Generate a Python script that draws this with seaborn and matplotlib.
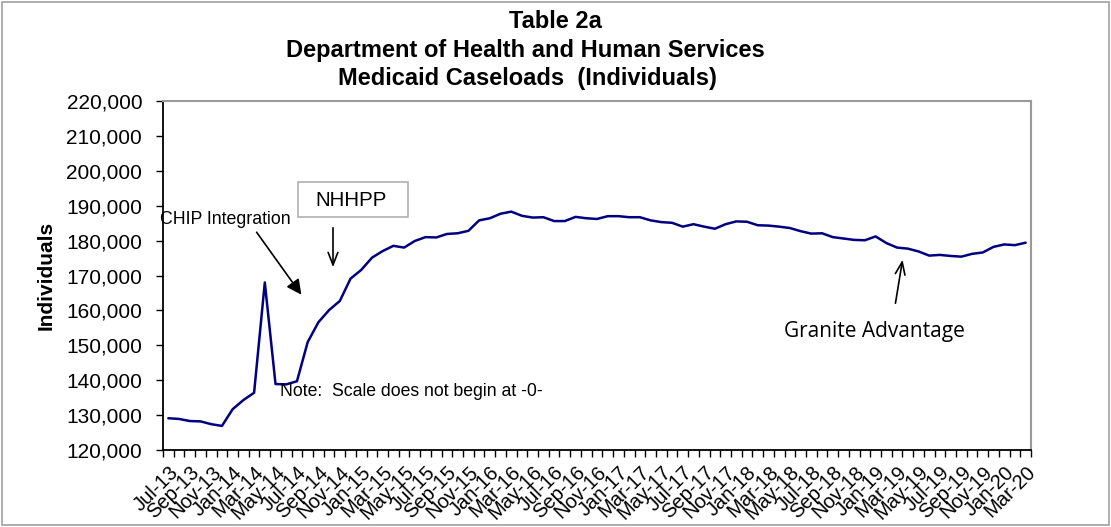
import matplotlib
matplotlib.use("Agg")
import matplotlib.pyplot as plt
import seaborn as sns
import pandas as pd
import numpy as np
from matplotlib.patches import Rectangle
from matplotlib.ticker import FuncFormatter, FixedLocator

sns.set_style("white")
plt.rcParams['font.family'] = ['Liberation Sans', 'DejaVu Sans']
plt.rcParams['text.color'] = 'black'
plt.rcParams['axes.labelcolor'] = 'black'
plt.rcParams['xtick.color'] = 'black'
plt.rcParams['ytick.color'] = 'black'

months = ["Jul-13", "Aug-13", "Sep-13", "Oct-13", "Nov-13", "Dec-13",
          "Jan-14", "Feb-14", "Mar-14", "Apr-14", "May-14", "Jun-14", "Jul-14", "Aug-14",
          "Sep-14", "Oct-14", "Nov-14", "Dec-14",
          "Jan-15", "Feb-15", "Mar-15", "Apr-15", "May-15", "Jun-15", "Jul-15", "Aug-15",
          "Sep-15", "Oct-15", "Nov-15", "Dec-15",
          "Jan-16", "Feb-16", "Mar-16", "Apr-16", "May-16", "Jun-16", "Jul-16", "Aug-16",
          "Sep-16", "Oct-16", "Nov-16", "Dec-16",
          "Jan-17", "Feb-17", "Mar-17", "Apr-17", "May-17", "Jun-17", "Jul-17", "Aug-17",
          "Sep-17", "Oct-17", "Nov-17", "Dec-17",
          "Jan-18", "Feb-18", "Mar-18", "Apr-18", "May-18", "Jun-18", "Jul-18", "Aug-18",
          "Sep-18", "Oct-18", "Nov-18", "Dec-18",
          "Jan-19", "Feb-19", "Mar-19", "Apr-19", "May-19", "Jun-19", "Jul-19", "Aug-19",
          "Sep-19", "Oct-19", "Nov-19", "Dec-19",
          "Jan-20", "Feb-20", "Mar-20"]

caseloads = [129100, 128900, 128300, 128200, 127400, 126900,
             131700, 134300, 136400, 168000, 138900, 138800, 139700, 150900,
             156600, 160100, 162700, 169100,
             171600, 175100, 177000, 178500, 178000, 179900, 181000, 180900,
             181900, 182100, 182800, 185800,
             186400, 187700, 188300, 187100, 186600, 186700, 185600, 185600,
             186800, 186400, 186200, 187000,
             187000, 186700, 186700, 185800, 185300, 185100, 184000, 184700,
             184000, 183400, 184700, 185500,
             185400, 184400, 184300, 184000, 183600, 182700, 182000, 182100,
             181000, 180600, 180200, 180100,
             181200, 179300, 178000, 177700, 176900, 175700, 175900, 175600,
             175400, 176200, 176600, 178200, 178900, 178700, 179400]

title_lines = ["Table 2a", "Department of Health and Human Services",
               "Medicaid Caseloads  (Individuals)"]
y_ticks = list(range(120000, 220001, 10000))

df = pd.DataFrame({"idx": np.arange(len(months)), "month": months, "value": caseloads})

W, H = 1111, 527
fig = plt.figure(figsize=(W / 100, H / 100), dpi=100)
ax = fig.add_axes([163 / W, 1 - 450 / H, (1031 - 163) / W, (450 - 101) / H])

sns.lineplot(data=df, x="idx", y="value", ax=ax, color="#000080", linewidth=1.8)

ax.set_xlim(-0.5, len(months) - 0.5)
ax.set_ylim(120000, 220000)
ax.set_yticks(y_ticks)
ax.yaxis.set_major_formatter(FuncFormatter(lambda v, p: f"{int(v):,}"))
ax.tick_params(axis="y", labelsize=15, length=5, width=1, color="black", direction="out", left=True, pad=10)

lab_idx = list(range(0, len(months), 2))
ax.xaxis.set_major_locator(FixedLocator(lab_idx))
ax.set_xticklabels([months[i] for i in lab_idx], rotation=45, ha="right",
                   rotation_mode="anchor", fontsize=14.5)
ax.tick_params(axis="x", which="major", length=0, pad=9)
ax.xaxis.set_minor_locator(FixedLocator(np.arange(-0.5, len(months), 1.0)))
ax.tick_params(axis="x", which="minor", length=5, width=1, color="black", direction="out", bottom=True)

ax.set_xlabel("")
ax.set_ylabel("Individuals", fontsize=15, fontweight="bold", labelpad=8)
ax.grid(False)

for s in ["left", "bottom"]:
    ax.spines[s].set_color("black")
    ax.spines[s].set_linewidth(1.3)
for s in ["top", "right"]:
    ax.spines[s].set_visible(True)
    ax.spines[s].set_color("#9a9a9a")
    ax.spines[s].set_linewidth(1.5)

# Titles
title_x = [555, 525, 527]
for i, t in enumerate(title_lines):
    fig.text(title_x[i] / W, 1 - (22 + 28 * i) / H, t, ha="center", va="center",
             fontsize=17, fontweight="bold")

# Figure border
fig.patches.append(Rectangle((0.002, 0.004), 0.996, 0.992, transform=fig.transFigure,
                             fill=False, edgecolor="#a0a0a0", linewidth=1.2))

def px(x, y):
    return (x / W, 1 - y / H)

# Annotations
fig.text(*px(160, 220), "CHIP Integration", ha="left", va="center", fontsize=12.8)
ax.annotate("", xy=px(303, 297), xycoords="figure fraction",
            xytext=px(255, 230), textcoords="figure fraction",
            arrowprops=dict(arrowstyle="-|>,head_length=0.9,head_width=0.45",
                            color="black", lw=1.2))

fig.text(*px(351, 200), "NHHPP", ha="center", va="center", fontsize=14.8)
fig.patches.append(Rectangle(px(298, 217), (408 - 298) / W, (217 - 182) / H,
                             transform=fig.transFigure, fill=False,
                             edgecolor="#b0b0b0", linewidth=1.2))
ax.annotate("", xy=px(333, 270), xycoords="figure fraction",
            xytext=px(333, 225), textcoords="figure fraction",
            arrowprops=dict(arrowstyle="->,head_length=0.9,head_width=0.35",
                            color="black", lw=1.2))

fig.text(*px(280, 391), "Note:  Scale does not begin at -0-", ha="left", va="center", fontsize=12.7)

fig.text(*px(874, 331), "Granite Advantage", ha="center", va="center", fontsize=15,
         family=["Open Sans", "DejaVu Sans"])
ax.annotate("", xy=px(903, 257), xycoords="figure fraction",
            xytext=px(895, 306), textcoords="figure fraction",
            arrowprops=dict(arrowstyle="->,head_length=0.9,head_width=0.35",
                            color="black", lw=1.2))

fig.savefig("out.png", dpi=100)
